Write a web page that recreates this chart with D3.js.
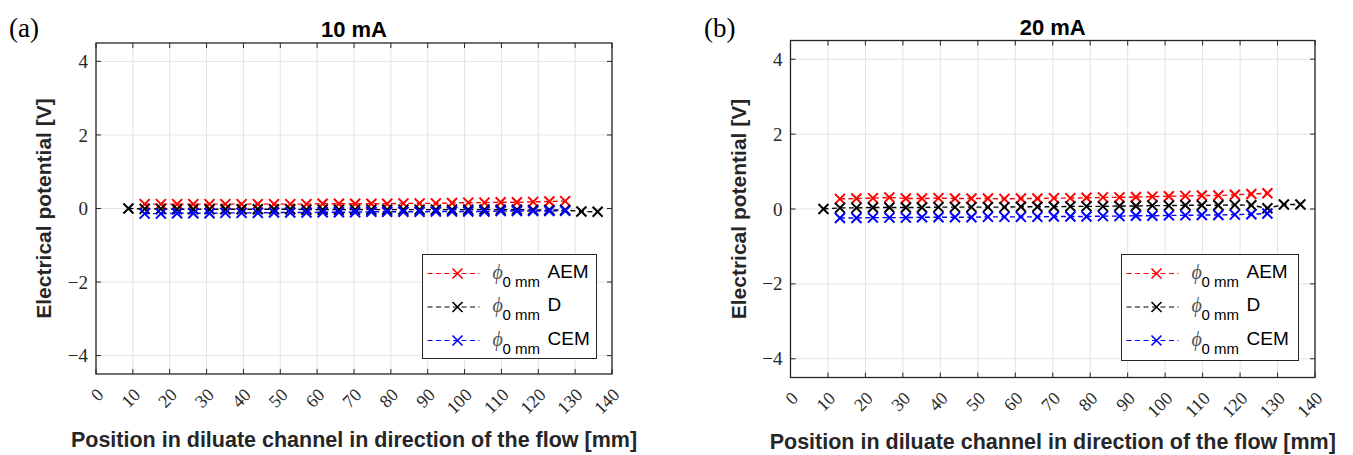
<!DOCTYPE html>
<html>
<head>
<meta charset="utf-8">
<script src="https://cdn.jsdelivr.net/npm/d3@7"></script>
<style>
  body { margin: 0; background: #fff; }
  svg { display: block; }
</style>
</head>
<body>
<svg id="chart" width="1353" height="455"></svg>
<script>
// positions along the diluate channel [mm]
const positions = [8.8, 13.2, 17.6, 22.0, 26.4, 30.8, 35.1, 39.5, 43.9, 48.3, 52.7, 57.1,
  61.5, 65.9, 70.3, 74.7, 79.0, 83.4, 87.8, 92.2, 96.6, 101.0, 105.4, 109.8, 114.2,
  118.6, 123.0, 127.3, 131.7, 136.1];

// 10 mA
const aem10 = [0.12, 0.12, 0.12, 0.12, 0.12, 0.12, 0.12, 0.12, 0.12, 0.12, 0.12, 0.13, 0.13,
  0.13, 0.13, 0.13, 0.14, 0.14, 0.14, 0.15, 0.16, 0.16, 0.17, 0.17, 0.18, 0.19, 0.2];
const d10 = [0.0, -0.01, -0.01, -0.02, -0.02, -0.02, -0.02, -0.02, -0.02, -0.02, -0.02, -0.03,
  -0.03, -0.03, -0.03, -0.03, -0.03, -0.03, -0.03, -0.03, -0.03, -0.03, -0.03, -0.03, -0.03,
  -0.04, -0.04, -0.04, -0.08, -0.09];
const cem10 = [-0.14, -0.14, -0.13, -0.13, -0.13, -0.12, -0.12, -0.12, -0.11, -0.11, -0.11,
  -0.1, -0.1, -0.1, -0.09, -0.09, -0.09, -0.09, -0.08, -0.08, -0.08, -0.08, -0.07, -0.07,
  -0.07, -0.07, -0.06];

// 20 mA
const aem20 = [0.27, 0.28, 0.29, 0.31, 0.28, 0.28, 0.29, 0.28, 0.28, 0.28, 0.27, 0.28, 0.28,
  0.29, 0.29, 0.3, 0.31, 0.31, 0.32, 0.33, 0.34, 0.35, 0.36, 0.36, 0.38, 0.4, 0.42];
const d20 = [0.0, 0.03, 0.03, 0.04, 0.04, 0.04, 0.04, 0.05, 0.05, 0.05, 0.05, 0.05, 0.06, 0.06,
  0.06, 0.07, 0.07, 0.07, 0.08, 0.08, 0.09, 0.09, 0.1, 0.1, 0.1, 0.11, 0.1, 0.02, 0.12, 0.12];
const cem20 = [-0.24, -0.24, -0.23, -0.23, -0.23, -0.22, -0.22, -0.22, -0.22, -0.21, -0.21,
  -0.21, -0.21, -0.2, -0.2, -0.2, -0.19, -0.19, -0.18, -0.18, -0.17, -0.17, -0.16, -0.16,
  -0.15, -0.14, -0.12];

const xTicks = [0, 10, 20, 30, 40, 50, 60, 70, 80, 90, 100, 110, 120, 130, 140];
const yTicks = [-4, -2, 0, 2, 4];
const seriesNames = ["AEM", "D", "CEM"];
const seriesColors = ["#ff0000", "#000000", "#0000ff"];

const svg = d3.select("#chart");
const sans = "'Liberation Sans', Arial, sans-serif";
const serif = "'Liberation Serif', 'Times New Roman', serif";

function drawPanel(p) {
  const g = svg.append("g");

  const x = d3.scaleLinear().domain([0, 140]).range([p.left, p.right]);
  const y = d3.scaleLinear().domain([-4.5, 4.5]).range([p.bottom, p.top]);

  // grid
  g.selectAll(".gx").data(xTicks).join("line")
    .attr("x1", d => x(d)).attr("x2", d => x(d))
    .attr("y1", p.top).attr("y2", p.bottom)
    .attr("stroke", "#e3e3e3").attr("stroke-width", 1);
  g.selectAll(".gy").data(yTicks).join("line")
    .attr("x1", p.left).attr("x2", p.right)
    .attr("y1", d => y(d)).attr("y2", d => y(d))
    .attr("stroke", "#e3e3e3").attr("stroke-width", 1);

  // inward ticks, matlab style
  const tl = 5;
  xTicks.forEach(t => {
    g.append("line").attr("x1", x(t)).attr("x2", x(t)).attr("y1", p.bottom).attr("y2", p.bottom - tl)
      .attr("stroke", "#262626");
    g.append("line").attr("x1", x(t)).attr("x2", x(t)).attr("y1", p.top).attr("y2", p.top + tl)
      .attr("stroke", "#262626");
  });
  yTicks.forEach(t => {
    g.append("line").attr("x1", p.left).attr("x2", p.left + tl).attr("y1", y(t)).attr("y2", y(t))
      .attr("stroke", "#262626");
    g.append("line").attr("x1", p.right).attr("x2", p.right - tl).attr("y1", y(t)).attr("y2", y(t))
      .attr("stroke", "#262626");
  });

  // axis tick labels
  const xAxis = g.append("g").attr("transform", "translate(0," + p.bottom + ")")
    .call(d3.axisBottom(x).tickValues(xTicks).tickSize(0).tickFormat(d3.format("d")));
  xAxis.select(".domain").remove();
  xAxis.selectAll("text")
    .attr("font-family", serif).attr("font-size", 18).attr("fill", "#262626")
    .attr("text-anchor", "end")
    .attr("dy", null).attr("y", 0)
    .attr("transform", "translate(8,22) rotate(-45)");

  const yAxis = g.append("g").attr("transform", "translate(" + p.left + ",0)")
    .call(d3.axisLeft(y).tickValues(yTicks).tickSize(0).tickPadding(8));
  yAxis.select(".domain").remove();
  yAxis.selectAll("text")
    .attr("font-family", serif).attr("font-size", 19).attr("fill", "#262626");

  // box
  g.append("rect")
    .attr("x", p.left).attr("y", p.top)
    .attr("width", p.right - p.left).attr("height", p.bottom - p.top)
    .attr("fill", "none").attr("stroke", "#262626").attr("stroke-width", 1.3);

  // series
  const m = 5;
  const clip = "clip" + p.id;
  svg.append("clipPath").attr("id", clip).append("rect")
    .attr("x", p.left).attr("y", p.top)
    .attr("width", p.right - p.left).attr("height", p.bottom - p.top);

  p.series.forEach((vals, k) => {
    const xs = k === 1 ? positions : positions.slice(1, 1 + vals.length);
    const pts = vals.map((v, i) => [xs[i], v]);
    const sg = g.append("g").attr("clip-path", "url(#" + clip + ")");
    sg.append("path").datum(pts)
      .attr("d", d3.line().x(d => x(d[0])).y(d => y(d[1])))
      .attr("fill", "none").attr("stroke", seriesColors[k])
      .attr("stroke-width", 1.4).attr("stroke-dasharray", "5,3.5");
    sg.selectAll(".mk").data(pts).join("path")
      .attr("d", d => {
        const cx = x(d[0]), cy = y(d[1]);
        return `M${cx - m},${cy - m}L${cx + m},${cy + m}M${cx - m},${cy + m}L${cx + m},${cy - m}`;
      })
      .attr("stroke", seriesColors[k]).attr("stroke-width", 2).attr("fill", "none");
  });

  // title
  g.append("text")
    .attr("x", (p.left + p.right) / 2).attr("y", p.top - 6)
    .attr("text-anchor", "middle")
    .attr("font-family", sans).attr("font-weight", "bold").attr("font-size", 22)
    .attr("fill", "#000").text(p.title);

  // panel letter
  g.append("text")
    .attr("x", p.letterX).attr("y", 37)
    .attr("font-family", serif).attr("font-size", 27)
    .attr("fill", "#000").text(p.letter);

  // axis labels
  g.append("text")
    .attr("transform", "translate(" + p.yLabelX + "," + ((p.top + p.bottom) / 2) + ") rotate(-90)")
    .attr("text-anchor", "middle")
    .attr("font-family", sans).attr("font-weight", "bold").attr("font-size", 21)
    .attr("fill", "#262626").text("Electrical potential [V]");
  g.append("text")
    .attr("x", (p.left + p.right) / 2 + p.xLabelShift).attr("y", p.xLabelY)
    .attr("text-anchor", "middle")
    .attr("font-family", sans).attr("font-weight", "bold").attr("font-size", 21.5)
    .attr("fill", "#262626").text("Position in diluate channel in direction of the flow [mm]");

  // legend
  const L = p.legend;
  const lg = g.append("g");
  lg.append("rect").attr("x", L.x).attr("y", L.y).attr("width", L.w).attr("height", L.h)
    .attr("fill", "#fff").attr("stroke", "#262626").attr("stroke-width", 1);
  seriesNames.forEach((name, k) => {
    const ry = L.y + 19 + k * 33.5;
    lg.append("line").attr("x1", L.x + 5).attr("x2", L.x + 57).attr("y1", ry).attr("y2", ry)
      .attr("stroke", seriesColors[k]).attr("stroke-width", 1.1).attr("stroke-dasharray", "5,3.5");
    const cx = L.x + 35;
    lg.append("path")
      .attr("d", `M${cx - m},${ry - m}L${cx + m},${ry + m}M${cx - m},${ry + m}L${cx + m},${ry - m}`)
      .attr("stroke", seriesColors[k]).attr("stroke-width", 1.6);
    lg.append("text").attr("x", L.x + 70).attr("y", ry + 5)
      .attr("font-family", serif).attr("font-style", "italic").attr("font-size", 20)
      .attr("fill", "#555").text("\u03D5");
    lg.append("text").attr("x", L.x + 80).attr("y", ry + 13)
      .attr("font-family", sans).attr("font-size", 15)
      .attr("fill", "#000").text("0 mm");
    lg.append("text").attr("x", L.x + 125).attr("y", ry + 4)
      .attr("font-family", sans).attr("font-size", 19)
      .attr("fill", "#000").text(name);
  });
}

drawPanel({
  id: "a", title: "10 mA", letter: "(a)", letterX: 9,
  left: 96, right: 612, top: 43, bottom: 374,
  yLabelX: 51, xLabelY: 447, xLabelShift: 0,
  legend: { x: 422.5, y: 254.5, w: 174, h: 104 },
  series: [aem10, d10, cem10]
});

drawPanel({
  id: "b", title: "20 mA", letter: "(b)", letterX: 704,
  left: 790.5, right: 1315, top: 40.5, bottom: 377.5,
  yLabelX: 746, xLabelY: 449, xLabelShift: 0,
  legend: { x: 1121.5, y: 254.5, w: 177, h: 106 },
  series: [aem20, d20, cem20]
});
</script>
</body>
</html>
